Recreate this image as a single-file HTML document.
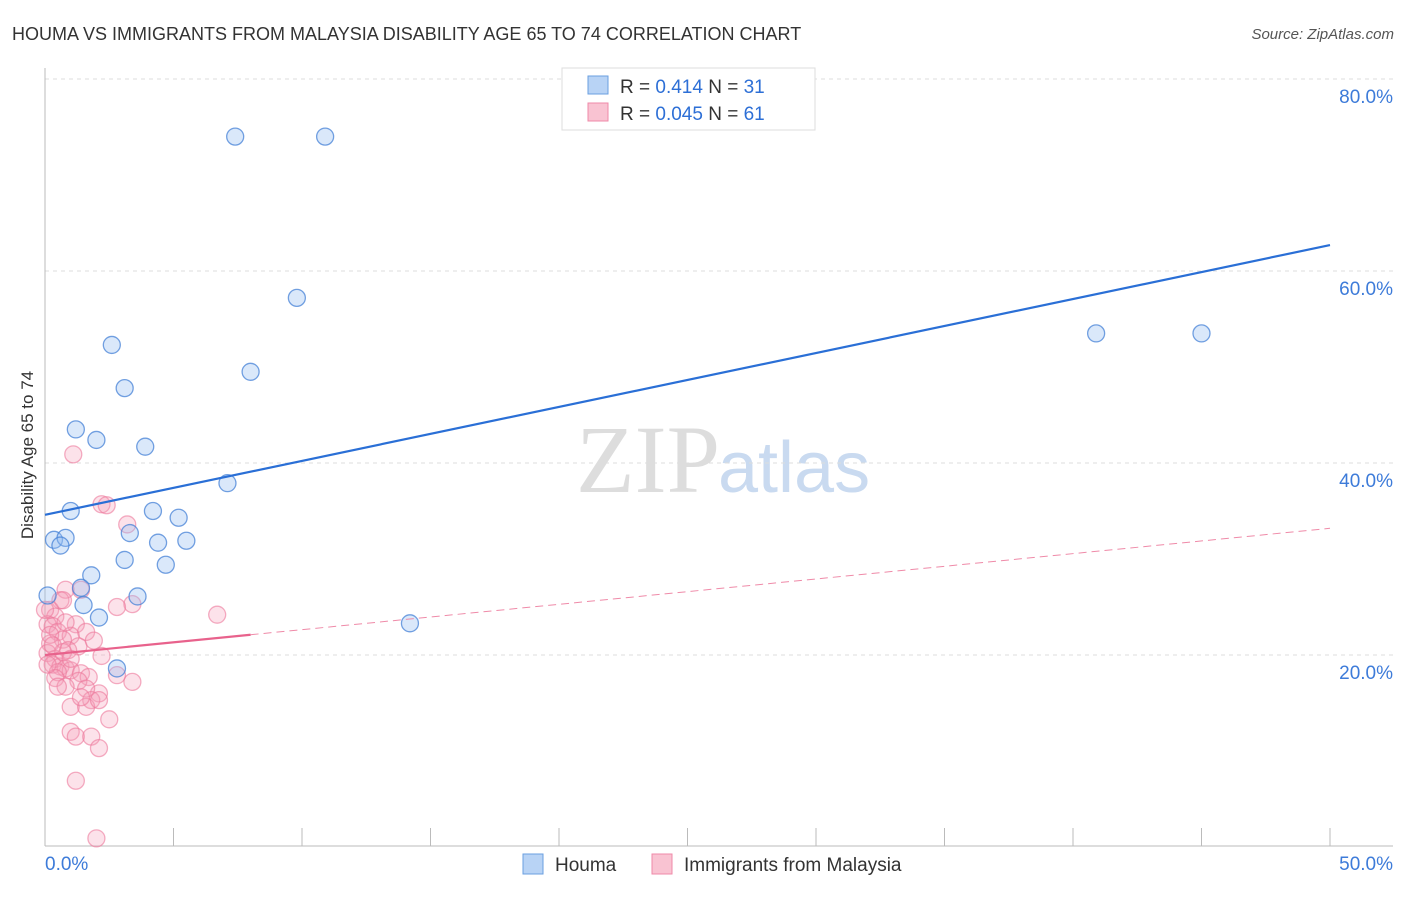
<!DOCTYPE html>
<html><head><meta charset="utf-8"><style>
body{margin:0;background:#fff;font-family:"Liberation Sans",sans-serif}
</style></head><body>
<svg id="c" width="1406" height="892" xmlns="http://www.w3.org/2000/svg">
<text x="12" y="40" font-size="18" fill="#333">HOUMA VS IMMIGRANTS FROM MALAYSIA DISABILITY AGE 65 TO 74 CORRELATION CHART</text>
<text x="1394" y="39" font-size="15" fill="#555" font-style="italic" text-anchor="end">Source: ZipAtlas.com</text>
<text x="720" y="492" font-size="96" fill="#ddd" text-anchor="end" font-family="Liberation Serif">ZIP</text>
<text x="718" y="492" font-size="72" fill="#c9daf0">atlas</text>
<text transform="translate(33,455) rotate(-90)" font-size="17" fill="#333" text-anchor="middle">Disability Age 65 to 74</text>
<g id="grid"></g><g id="axes"></g><g id="marks"></g>
<g>
<rect x="562" y="68" width="253" height="62" fill="#fff" stroke="#ddd"/>
<rect x="588" y="76" width="20" height="18" fill="#b8d3f5" stroke="#6a9fe0"/>
<rect x="588" y="103" width="20" height="18" fill="#f9c3d2" stroke="#ef8aa8"/>
<text x="620" y="93" font-size="19" fill="#333">R = <tspan fill="#2d6fd6">0.414</tspan>   N = <tspan fill="#2d6fd6">31</tspan></text>
<text x="620" y="120" font-size="19" fill="#333">R = <tspan fill="#2d6fd6">0.045</tspan>   N = <tspan fill="#2d6fd6">61</tspan></text>
</g>
<g>
<rect x="523" y="854" width="20" height="20" fill="#b8d3f5" stroke="#6a9fe0"/>
<text x="555" y="871" font-size="19" fill="#333">Houma</text>
<rect x="652" y="854" width="20" height="20" fill="#f9c3d2" stroke="#ef8aa8"/>
<text x="684" y="871" font-size="19" fill="#333">Immigrants from Malaysia</text>
</g>
</svg>
<script>
const yTicks=[20,40,60,80];
const yTickLabels=["20.0%","40.0%","60.0%","80.0%"];
const houmaX=[7.4,10.9,9.8,2.6,8.0,3.1,1.2,2.0,3.9,7.1,1.0,4.2,5.2,0.35,0.8,0.6,3.3,4.4,5.5,3.1,4.7,1.8,1.4,0.1,3.6,1.5,2.1,14.2,2.8,40.9,45.0];
const houmaY=[74.0,74.0,57.2,52.3,49.5,47.8,43.5,42.4,41.7,37.9,35.0,35.0,34.3,32.0,32.2,31.4,32.7,31.7,31.9,29.9,29.4,28.3,27.0,26.2,26.1,25.2,23.9,23.3,18.6,53.5,53.5];
const malX=[1.1,2.2,2.4,3.2,0.8,1.4,0.6,0.7,3.4,2.8,6.7,0.2,0.4,0.1,0.3,1.2,1.6,0.5,1.0,0.7,0.2,1.3,0.9,0.1,2.2,0.4,0.3,0.6,0.8,1.0,0.5,1.4,1.7,2.8,3.4,0.4,1.3,0.8,2.1,1.6,1.8,1.0,1.6,2.1,2.5,1.0,1.2,1.8,2.1,1.2,2.0,0.1,0.2,0.7,1.0,0.5,1.4,0.0,0.3,0.8,1.9];
const malY=[40.9,35.7,35.6,33.6,26.8,26.8,25.7,25.7,25.3,25.0,24.2,24.7,24.0,23.2,23.0,23.2,22.4,22.4,22.0,21.6,21.2,20.9,20.5,20.2,19.9,19.6,19.0,18.8,18.6,18.4,18.2,18.1,17.7,17.9,17.2,17.6,17.3,16.7,16.0,16.5,15.3,14.6,14.6,15.3,13.3,12.0,11.5,11.5,10.3,6.9,0.9,19.0,22.1,20.3,19.6,16.7,15.6,24.7,21.0,23.4,21.5];
const houmaTrend=[34.6,62.7], malTrend=[20.0,33.2];
const X=v=>45+v*25.7, Y=v=>847-v*9.6;
const NS="http://www.w3.org/2000/svg";
function mk(tag,attrs,parent){const e=document.createElementNS(NS,tag);for(const k in attrs)e.setAttribute(k,attrs[k]);document.getElementById(parent).appendChild(e);return e;}
yTicks.forEach((t,i)=>{
 const l=mk('line',{x1:45,x2:1393,y1:Y(t),y2:Y(t),stroke:'#ddd','stroke-dasharray':'4,4'},'grid');
 
 
 const tx=mk('text',{x:1393,y:Y(t)+24,'font-size':19,fill:'#3d7bd9','text-anchor':'end'},'grid');
 tx.textContent=yTickLabels[i];
 
 
});
let a=mk('line',{x1:45,x2:45,y1:68,y2:846,stroke:'#bbb'},'axes');

a=mk('line',{x1:45,x2:1393,y1:846,y2:846,stroke:'#bbb'},'axes');

for(let i=0;i<=10;i++){const t=mk('line',{x1:X(i*5),x2:X(i*5),y1:828,y2:846,stroke:'#bbb'},'axes');
 }
let t0=mk('text',{x:45,y:870,'font-size':19,fill:'#3d7bd9'},'axes');t0.textContent='0.0%';

let t1=mk('text',{x:1393,y:870,'font-size':19,fill:'#3d7bd9','text-anchor':'end'},'axes');t1.textContent='50.0%';

malX.forEach((x,i)=>{const c=mk('circle',{cx:X(x),cy:Y(malY[i]),r:8.5,fill:'rgba(246,160,185,0.3)',stroke:'rgba(236,120,155,0.6)','stroke-width':1.3},'marks');
 });
houmaX.forEach((x,i)=>{const c=mk('circle',{cx:X(x),cy:Y(houmaY[i]),r:8.5,fill:'rgba(150,190,240,0.35)',stroke:'rgba(70,130,215,0.75)','stroke-width':1.3},'marks');
 });
let l=mk('line',{x1:X(0),y1:Y(houmaTrend[0]),x2:X(50),y2:Y(houmaTrend[1]),stroke:'#2a6fd6','stroke-width':2.2},'marks');

const ms=(malTrend[1]-malTrend[0])/50;
l=mk('line',{x1:X(0),y1:Y(malTrend[0]),x2:X(8),y2:Y(malTrend[0]+ms*8),stroke:'#e8628c','stroke-width':2.2},'marks');

l=mk('line',{x1:X(8),y1:Y(malTrend[0]+ms*8),x2:X(50),y2:Y(malTrend[1]),stroke:'#ef8aa8','stroke-width':1,'stroke-dasharray':'8,5'},'marks');

</script>
</body></html>
